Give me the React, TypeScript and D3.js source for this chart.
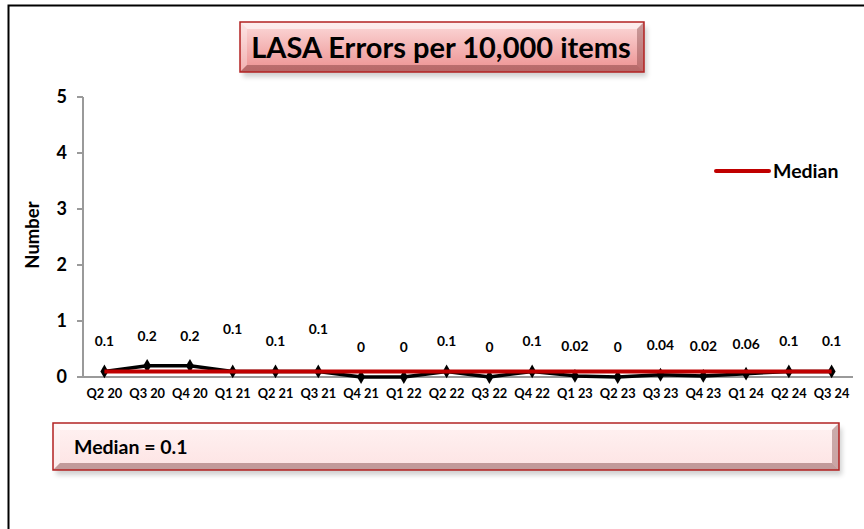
import React from 'react';
import * as d3 from 'd3';

const quarters = ['Q2 20', 'Q3 20', 'Q4 20', 'Q1 21', 'Q2 21', 'Q3 21', 'Q4 21', 'Q1 22', 'Q2 22', 'Q3 22', 'Q4 22', 'Q1 23', 'Q2 23', 'Q3 23', 'Q4 23', 'Q1 24', 'Q2 24', 'Q3 24'];
const errors = [0.1, 0.2, 0.2, 0.1, 0.1, 0.1, 0, 0, 0.1, 0, 0.1, 0.02, 0, 0.04, 0.02, 0.06, 0.1, 0.1];
const median = [0.1, 0.1, 0.1, 0.1, 0.1, 0.1, 0.1, 0.1, 0.1, 0.1, 0.1, 0.1, 0.1, 0.1, 0.1, 0.1, 0.1, 0.1];
const yTicks = [0, 1, 2, 3, 4, 5];
// labels Excel pushed up to avoid the median line
const raisedLabels = ['Q1 21', 'Q3 21'];

const font = 'Lato, Calibri, Carlito, sans-serif';

const W = 864;
const H = 529;
const plot = { left: 83, right: 853, top: 97, bottom: 377 };

const x = d3.scaleBand<string>().domain(quarters).range([plot.left, plot.right]);
const y = d3.scaleLinear().domain([0, 5]).range([plot.bottom, plot.top]);
const cx = (q: string) => (x(q) as number) + x.bandwidth() / 2;

const line = d3.line<number>().x((_, i) => cx(quarters[i])).y(d => y(d));
const diamond = d3.symbol(d3.symbolDiamond, 55)();

const BevelBox = ({ x0, y0, w, h, id, top, bottom }: { x0: number; y0: number; w: number; h: number; id: string; top: string; bottom: string }) => {
  const b = 7;
  return (
    <g>
      <rect x={x0 + 3} y={y0 + 5} width={w} height={h} fill="#000" opacity={0.18} filter="url(#blur)" />
      <rect x={x0} y={y0} width={w} height={h} fill={`url(#${id})`} />
      <polygon points={`${x0},${y0} ${x0 + w},${y0} ${x0 + w - b},${y0 + b} ${x0 + b},${y0 + b}`} fill="#fff" opacity={0.55} />
      <polygon points={`${x0},${y0} ${x0 + b},${y0 + b} ${x0 + b},${y0 + h - b} ${x0},${y0 + h}`} fill="#fff" opacity={0.3} />
      <polygon points={`${x0 + w},${y0} ${x0 + w},${y0 + h} ${x0 + w - b},${y0 + h - b} ${x0 + w - b},${y0 + b}`} fill="#6a2a2a" opacity={0.35} />
      <polygon points={`${x0},${y0 + h} ${x0 + w},${y0 + h} ${x0 + w - b},${y0 + h - b} ${x0 + b},${y0 + h - b}`} fill="#6a2a2a" opacity={0.4} />
      <rect x={x0} y={y0} width={w} height={h} fill="none" stroke="#b22222" strokeWidth={1.5} />
      <defs>
        <linearGradient id={id} x1="0" y1="0" x2="0" y2="1">
          <stop offset="0" stopColor={top} />
          <stop offset="1" stopColor={bottom} />
        </linearGradient>
      </defs>
    </g>
  );
};

export default function App() {
  return (
    <svg width={W} height={H} style={{ position: 'absolute', left: 0, top: 0, background: '#fff' }} fontFamily={font}>
      <defs>
        <filter id="blur" x="-10%" y="-50%" width="120%" height="200%">
          <feGaussianBlur stdDeviation="2.5" />
        </filter>
      </defs>
      <path d={`M8.5,${H + 5} V5.5 H${W + 5}`} fill="none" stroke="#000" strokeWidth={2} />

      <BevelBox x0={240} y0={22} w={404} h={50} id="titleGrad" top="#fcdada" bottom="#ec9090" />
      <text x={441} y={58} textAnchor="middle" fontSize={29} fontWeight="bold" fill="#000">LASA Errors per 10,000 items</text>

      {/* y axis */}
      <line x1={plot.left} x2={plot.left} y1={plot.top} y2={plot.bottom} stroke="#9a9a9a" strokeWidth={2} />
      {yTicks.map(t => (
        <g key={t}>
          <line x1={plot.left - 6} x2={plot.left} y1={y(t)} y2={y(t)} stroke="#9a9a9a" strokeWidth={2} />
          <text x={plot.left - 16} y={y(t) + 6} textAnchor="end" fontSize={18} fontWeight="bold">{t}</text>
        </g>
      ))}
      <text transform={`translate(39,${(plot.top + plot.bottom) / 2 - 2}) rotate(-90)`} textAnchor="middle" fontSize={18.5} fontWeight="bold">Number</text>

      {/* x axis */}
      <line x1={plot.left} x2={plot.right} y1={plot.bottom} y2={plot.bottom} stroke="#9a9a9a" strokeWidth={2} />
      {quarters.map(q => (
        <text key={q} x={cx(q)} y={plot.bottom + 21} textAnchor="middle" fontSize={12.8} fontWeight="bold">{q}</text>
      ))}

      {/* series */}
      <path d={line(errors) as string} fill="none" stroke="#000" strokeWidth={3.5} strokeLinejoin="round" />
      {errors.map((v, i) => (
        <path key={i} d={diamond as string} transform={`translate(${cx(quarters[i])},${y(v)})`} fill="#000" />
      ))}
      <path d={line(median) as string} fill="none" stroke="#c00000" strokeWidth={4} />
      {errors.map((v, i) => (
        <text key={i} x={cx(quarters[i])} y={y(v) - (raisedLabels.includes(quarters[i]) ? 37 : 25)} textAnchor="middle" fontSize={13.8} fontWeight="bold">{v}</text>
      ))}

      {/* legend */}
      <line x1={716} x2={769} y1={171} y2={171} stroke="#c00000" strokeWidth={4} strokeLinecap="round" />
      <text x={773} y={178} fontSize={19.5} fontWeight="bold">Median</text>

      <BevelBox x0={53} y0={423} w={786} h={47} id="medGrad" top="#fff2f2" bottom="#fde3e3" />
      <text x={74} y={454} fontSize={19.5} fontWeight="bold">Median = {d3.median(errors)}</text>
    </svg>
  );
}
